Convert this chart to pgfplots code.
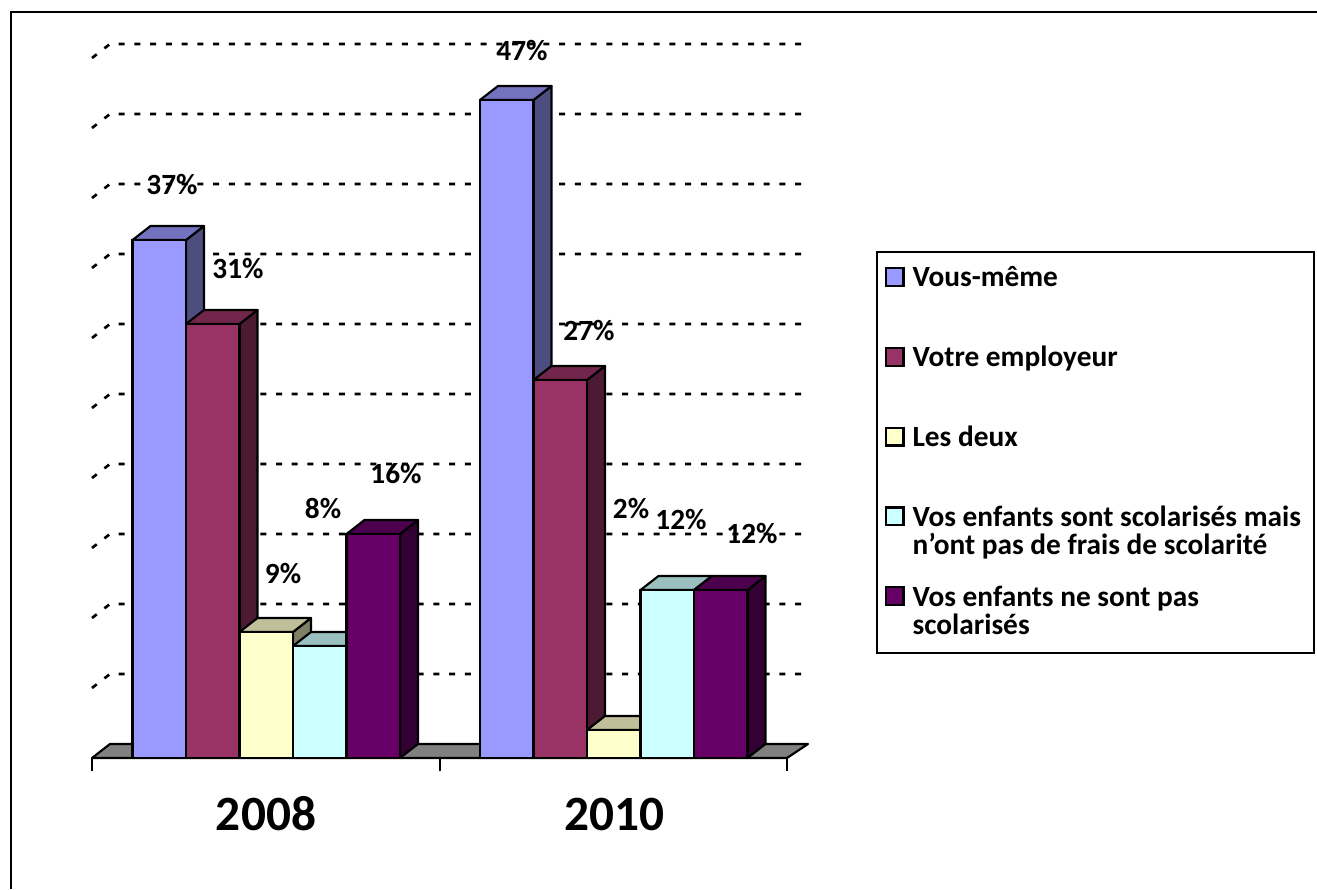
\documentclass[border=0pt]{standalone}
\usepackage{pgfplots}
\pgfplotsset{compat=1.18}
\usepackage{fontspec}
\setmainfont{Carlito}
% 1 px of the reference = 0.75pt
\definecolor{blueF}{HTML}{9999FF}\definecolor{blueT}{HTML}{7272BE}\definecolor{blueS}{HTML}{4D4D80}
\definecolor{redF}{HTML}{993366}\definecolor{redT}{HTML}{72264C}\definecolor{redS}{HTML}{4D1A33}
\definecolor{yelF}{HTML}{FFFFCC}\definecolor{yelT}{HTML}{BFBF99}\definecolor{yelS}{HTML}{808066}
\definecolor{cyaF}{HTML}{CCFFFF}\definecolor{cyaT}{HTML}{99BFBF}\definecolor{cyaS}{HTML}{668080}
\definecolor{purF}{HTML}{660066}\definecolor{purT}{HTML}{4D004D}\definecolor{purS}{HTML}{330033}
\pgfplotsset{
  face/.style={draw=black,line width=1.6pt,line join=round,forget plot},
  grid line/.style={black,line width=2pt,dash pattern=on 4.5pt off 7.3pt,forget plot},
  front/.style={ybar,bar width=40.1pt,bar shift=0pt,draw=black,line width=1.6pt,
    legend image code/.code={\draw[##1,line width=1.6pt] (0.8pt,0.8pt) rectangle (14.2pt,14.2pt);}},
}
\newcommand{\lgd}[1]{\parbox[t]{295pt}{\baselineskip=21pt #1}}
\begin{document}
\begin{tikzpicture}
\path[use as bounding box] (0,0) rectangle (987.75pt,666.75pt);
\draw[black,line width=1.6pt] (8.25pt,0pt) -- (8.25pt,657.75pt) -- (987.75pt,657.75pt);
\begin{axis}[
  at={(69pt,98.25pt)}, anchor=south west,
  scale only axis, width=521.25pt, height=535.5pt,
  xmin=92, xmax=787, ymin=0, ymax=51,
  clip=false,
  axis y line=none, axis x line=bottom,
  axis line style={-,line width=1.6pt},
  xtick={266,614}, xticklabels={2008,2010},
  tick align=outside,
  major tick length=0pt,
  xticklabel style={font=\fontsize{37}{37}\selectfont\bfseries,text height=24pt,text depth=0pt,yshift=-27pt},
  extra x ticks={92,440,787}, extra x tick labels={},
  extra x tick style={major tick length=10pt,tick style={black,line width=1.6pt}},
  legend style={at={(axis cs:875.5,36.21)},anchor=north west,draw=black,line width=1.6pt,
    inner xsep=6pt,inner ysep=11pt,row sep=20.9pt,column sep=6pt,
    font=\fontsize{22}{21}\selectfont\bfseries,
    nodes={inner sep=0pt,anchor=base west,text height=14pt,text depth=24pt}},
  legend cell align=left,
]
% back wall and floor
\addplot[grid line] coordinates {(92,5) (110,6) (808,6)};
\addplot[grid line] coordinates {(92,10) (110,11) (808,11)};
\addplot[grid line] coordinates {(92,15) (110,16) (808,16)};
\addplot[grid line] coordinates {(92,20) (110,21) (808,21)};
\addplot[grid line] coordinates {(92,25) (110,26) (808,26)};
\addplot[grid line] coordinates {(92,30) (110,31) (808,31)};
\addplot[grid line] coordinates {(92,35) (110,36) (808,36)};
\addplot[grid line] coordinates {(92,40) (110,41) (808,41)};
\addplot[grid line] coordinates {(92,45) (110,46) (808,46)};
\addplot[grid line] coordinates {(92,50) (110,51) (808,51)};
\addplot[face,fill=black!50] coordinates {(92,0) (110,1) (808,1) (787,0)} --cycle;
% Vous-même
\addplot[face,fill=blueS] coordinates {(186,0) (204,1) (204,38) (186,37)} --cycle;
\addplot[face,fill=blueT] coordinates {(132.5,37) (186,37) (204,38) (150.5,38)} --cycle;
\addplot[face,fill=blueS] coordinates {(533.5,0) (551.5,1) (551.5,48) (533.5,47)} --cycle;
\addplot[face,fill=blueT] coordinates {(480,47) (533.5,47) (551.5,48) (498,48)} --cycle;
\addplot[front,fill=blueF] coordinates {(159.25,37) (506.75,47)};
\addlegendentry{\lgd{Vous-même}}
% Votre employeur
\addplot[face,fill=redS] coordinates {(239.5,0) (257.5,1) (257.5,32) (239.5,31)} --cycle;
\addplot[face,fill=redT] coordinates {(186,31) (239.5,31) (257.5,32) (204,32)} --cycle;
\addplot[face,fill=redS] coordinates {(587,0) (605,1) (605,28) (587,27)} --cycle;
\addplot[face,fill=redT] coordinates {(533.5,27) (587,27) (605,28) (551.5,28)} --cycle;
\addplot[front,fill=redF] coordinates {(212.75,31) (560.25,27)};
\addlegendentry{\lgd{Votre employeur}}
% Les deux
\addplot[face,fill=yelS] coordinates {(293,0) (311,1) (311,10) (293,9)} --cycle;
\addplot[face,fill=yelT] coordinates {(239.5,9) (293,9) (311,10) (257.5,10)} --cycle;
\addplot[face,fill=yelS] coordinates {(640.5,0) (658.5,1) (658.5,3) (640.5,2)} --cycle;
\addplot[face,fill=yelT] coordinates {(587,2) (640.5,2) (658.5,3) (605,3)} --cycle;
\addplot[front,fill=yelF] coordinates {(266.25,9) (613.75,2)};
\addlegendentry{\lgd{Les deux}}
% enfants scolarisés sans frais
\addplot[face,fill=cyaS] coordinates {(346.5,0) (364.5,1) (364.5,9) (346.5,8)} --cycle;
\addplot[face,fill=cyaT] coordinates {(293,8) (346.5,8) (364.5,9) (311,9)} --cycle;
\addplot[face,fill=cyaS] coordinates {(694,0) (712,1) (712,13) (694,12)} --cycle;
\addplot[face,fill=cyaT] coordinates {(640.5,12) (694,12) (712,13) (658.5,13)} --cycle;
\addplot[front,fill=cyaF] coordinates {(319.75,8) (667.25,12)};
\addlegendentry{\lgd{Vos enfants sont scolarisés mais\\n’ont pas de frais de scolarité}}
% enfants non scolarisés
\addplot[face,fill=purS] coordinates {(400,0) (418,1) (418,17) (400,16)} --cycle;
\addplot[face,fill=purT] coordinates {(346.5,16) (400,16) (418,17) (364.5,17)} --cycle;
\addplot[face,fill=purS] coordinates {(747.5,0) (765.5,1) (765.5,13) (747.5,12)} --cycle;
\addplot[face,fill=purT] coordinates {(694,12) (747.5,12) (765.5,13) (712,13)} --cycle;
\addplot[front,fill=purF] coordinates {(373.25,16) (720.75,12)};
\addlegendentry{\lgd{Vos enfants ne sont pas\\scolarisés}}
% data labels
\begin{scope}[every node/.style={font=\fontsize{22}{22}\selectfont\bfseries,inner sep=0pt,anchor=center}]
\node at (axis cs:172,40.93) {37\%};
\node at (axis cs:238,34.93) {31\%};
\node at (axis cs:283,13.21) {9\%};
\node at (axis cs:323,17.79) {8\%};
\node at (axis cs:396,20.29) {16\%};
\node at (axis cs:522,50.5) {47\%};
\node at (axis cs:589,30.57) {27\%};
\node at (axis cs:631,17.79) {2\%};
\node at (axis cs:681,17.0) {12\%};
\node at (axis cs:752,16.07) {12\%};
\end{scope}
\end{axis}
\end{tikzpicture}
\end{document}
